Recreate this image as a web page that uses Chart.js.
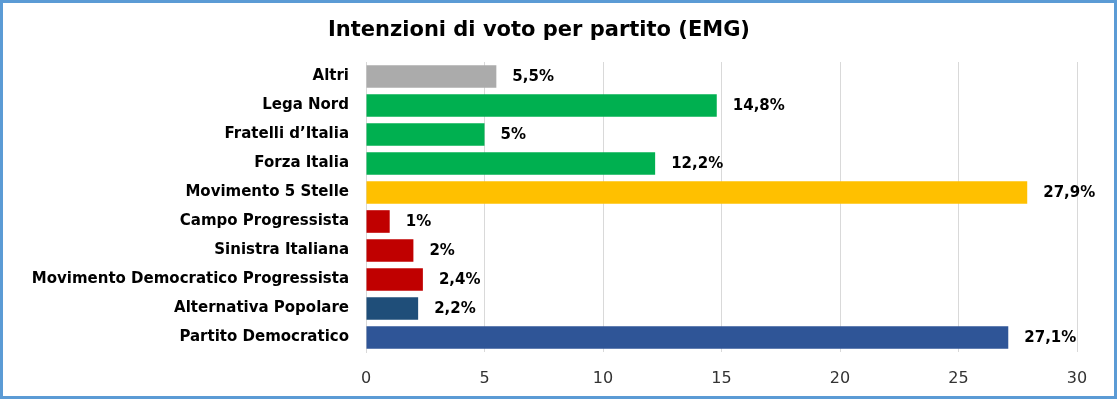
<!DOCTYPE html>
<html>
<head>
<meta charset="utf-8">
<script src="https://cdn.jsdelivr.net/npm/chart.js@4"></script>
<style>
    html, body { margin: 0; padding: 0; background: #fff; }
    #wrap {
        width: 1117px; height: 399px;
        box-sizing: border-box;
        border: 3px solid #5B9BD5;
        position: relative;
    }
</style>
</head>
<body>
<div id="wrap"><canvas id="chart"></canvas></div>
<script>
// Data
const parties = [
    'Altri', 'Lega Nord', 'Fratelli d\u2019Italia', 'Forza Italia', 'Movimento 5 Stelle',
    'Campo Progressista', 'Sinistra Italiana', 'Movimento Democratico Progressista',
    'Alternativa Popolare', 'Partito Democratico'
];
const votes = [5.5, 14.8, 5, 12.2, 27.9, 1, 2, 2.4, 2.2, 27.1];
const barColors = ['#ABABAB', '#00B050', '#00B050', '#00B050', '#FFC000',
                   '#C00000', '#C00000', '#C00000', '#1F4E79', '#2F5597'];
const xTicks = [0, 5, 10, 15, 20, 25, 30];

const chartTitle = 'Intenzioni di voto per partito (EMG)';
const fontName = "'DejaVu Sans', sans-serif";

// title drawn by hand so it can sit a bit left of centre like the original
const titlePlugin = {
    id: 'manualTitle',
    afterDraw(chart) {
        const ctx = chart.ctx;
        ctx.save();
        ctx.font = 'bold 21px ' + fontName;
        ctx.fillStyle = '#000';
        ctx.textAlign = 'center';
        ctx.textBaseline = 'middle';
        ctx.fillText(chartTitle, 536, 28);
        ctx.restore();
    }
};

// percentage labels next to each bar
const valueLabels = {
    id: 'valueLabels',
    afterDatasetsDraw(chart) {
        const ctx = chart.ctx;
        const meta = chart.getDatasetMeta(0);
        ctx.save();
        ctx.font = 'bold 15px ' + fontName;
        ctx.fillStyle = '#000';
        ctx.textBaseline = 'middle';
        meta.data.forEach((bar, i) => {
            const txt = String(votes[i]).replace('.', ',') + '%';
            ctx.fillText(txt, bar.x + 16, bar.y + 1);
        });
        ctx.restore();
    }
};

new Chart(document.getElementById('chart'), {
    type: 'bar',
    data: {
        labels: parties,
        datasets: [{
            data: votes,
            backgroundColor: barColors,
            borderWidth: 0,
            categoryPercentage: 1,
            barPercentage: 0.78
        }]
    },
    options: {
        indexAxis: 'y',
        responsive: true,
        maintainAspectRatio: false,
        animation: false,
        layout: { padding: { top: 59, right: 37, bottom: 0, left: 0 } },
        scales: {
            x: {
                min: 0, max: 30,
                afterBuildTicks: s => { s.ticks = xTicks.map(v => ({ value: v })); },
                grid: { color: '#D9D9D9', drawTicks: false },
                border: { display: false },
                ticks: { color: '#333', padding: 17, font: { family: fontName, size: 16 } },
                afterFit: s => { s.height = 44; }
            },
            y: {
                grid: { display: false, drawTicks: false },
                border: { color: '#D9D9D9' },
                ticks: { color: '#000', padding: 17, font: { family: fontName, size: 15, weight: 'bold' } },
                afterFit: s => { s.width = 363; }
            }
        },
        plugins: {
            legend: { display: false },
            tooltip: { enabled: false },
            title: { display: false }
        }
    },
    plugins: [titlePlugin, valueLabels]
});
</script>
</body>
</html>
